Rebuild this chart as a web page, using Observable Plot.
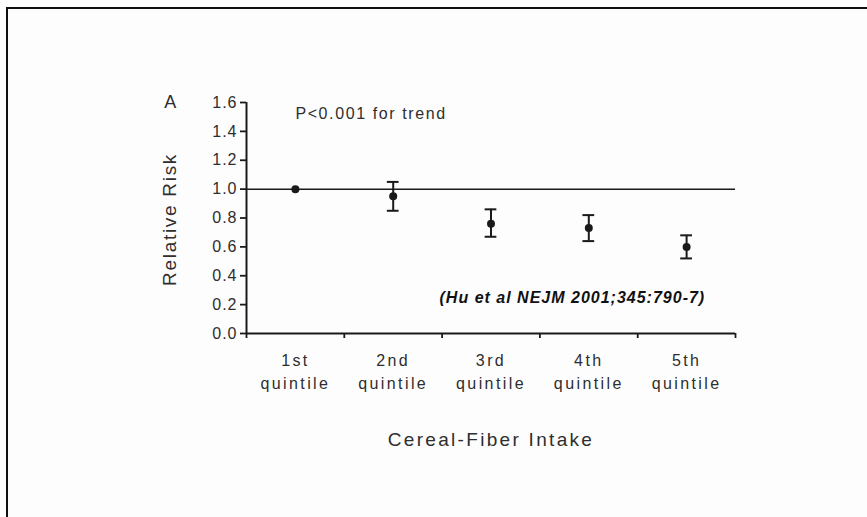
<!DOCTYPE html>
<html>
<head>
<meta charset="utf-8">
<script src="https://cdn.jsdelivr.net/npm/d3@7"></script>
<script src="https://cdn.jsdelivr.net/npm/@observablehq/plot@0.6"></script>
<style>
  html, body { margin: 0; padding: 0; background: #ffffff; }
  #wrap { position: relative; width: 867px; height: 517px; overflow: hidden; background: #ffffff; }
  #frame { position: absolute; left: 6px; top: 7px; right: -10px; bottom: -10px;
           border-top: 2px solid #111; border-left: 2px solid #111; background: #fdfdfd; }
  #chart { position: absolute; left: 0; top: 0; }
  #chart svg { background: transparent; }
</style>
</head>
<body>
<div id="wrap"><div id="frame"></div><div id="chart"></div></div>
<script>
// ---- data ----
const categories = ["1st\nquintile", "2nd\nquintile", "3rd\nquintile", "4th\nquintile", "5th\nquintile"];
const relativeRisk = [1.00, 0.95, 0.76, 0.73, 0.60];
const ciLower = [null, 0.85, 0.67, 0.64, 0.52];
const ciUpper = [null, 1.05, 0.86, 0.82, 0.68];
const yTicks = [0, 0.2, 0.4, 0.6, 0.8, 1.0, 1.2, 1.4, 1.6];
const panelLabel = "A";
const yLabel = "Relative Risk";
const xLabel = "Cereal-Fiber Intake";
const trendNote = "P<0.001 for trend";
const citation = "(Hu et al NEJM 2001;345:790-7)";

const rows = categories.map((c, i) => ({
  pos: i + 0.5, label: c, rr: relativeRisk[i], lo: ciLower[i], hi: ciUpper[i]
}));
const bars = rows.filter(d => d.lo != null);
const boundaries = d3.range(0, categories.length + 1);

const ink = "#1a1a1a";
const txt = "#2e2e2e";
const font = "'Liberation Sans', Arial, Helvetica, sans-serif";

const chart = Plot.plot({
  width: 867,
  height: 517,
  marginLeft: 246,
  marginRight: 132,
  marginTop: 102,
  marginBottom: 184,
  style: { fontFamily: font, color: txt, background: "transparent", overflow: "visible" },
  x: { domain: [0, categories.length], axis: null },
  y: { domain: [0, 1.6], axis: null },
  marks: [
    Plot.ruleY([1], { stroke: ink, strokeWidth: 1.5 }),
    Plot.ruleX([0], { stroke: ink, strokeWidth: 2 }),
    Plot.ruleY([0], { stroke: ink, strokeWidth: 2 }),
    Plot.axisY({
      ticks: yTicks, tickSize: 6, tickPadding: 3, tickFormat: d3.format(".1f"),
      stroke: ink, strokeWidth: 1.8, fill: txt, fontSize: 16, label: null
    }),
    Plot.axisX({
      ticks: boundaries, tickSize: 5, tickFormat: () => "", stroke: ink, strokeWidth: 1.8, label: null
    }),
    Plot.text(rows, {
      x: "pos", y: () => 0, text: "label", dy: 16, lineAnchor: "top", lineHeight: 1.45,
      fontSize: 16, fill: txt
    }),
    Plot.ruleX(bars, { x: "pos", y1: "lo", y2: "hi", stroke: ink, strokeWidth: 2 }),
    Plot.ruleY(bars, { y: "hi", x1: d => d.pos - 0.06, x2: d => d.pos + 0.06, stroke: ink, strokeWidth: 2 }),
    Plot.ruleY(bars, { y: "lo", x1: d => d.pos - 0.06, x2: d => d.pos + 0.06, stroke: ink, strokeWidth: 2 }),
    Plot.dot(rows, { x: "pos", y: "rr", r: 4, fill: ink, stroke: "none" }),
    Plot.text([trendNote], { x: () => 0.5, y: () => 1.52, text: d => d, textAnchor: "start",
      fontSize: 16, fill: txt }),
    Plot.text([citation], { x: () => 4.69, y: () => 0.25, text: d => d, textAnchor: "end",
      fontSize: 16, fontWeight: "bold", fontStyle: "italic", fill: "#111" }),
    Plot.text([panelLabel], { x: () => -0.78, y: () => 1.6, text: d => d,
      fontSize: 18, fill: txt }),
    Plot.text([yLabel], { x: () => -0.78, y: () => 0.79, text: d => d, rotate: -90,
      fontSize: 19, fill: txt }),
    Plot.text([xLabel], { x: () => 2.5, y: () => 0, text: d => d, dy: 106,
      fontSize: 19, fill: txt })
  ]
});

// letter spacing to match the wide lettering of the reference
const spacing = new Map([
  [trendNote, "1.6px"], [citation, "1px"], [yLabel, "1.7px"], [xLabel, "2.3px"]
]);
d3.select(chart).selectAll("text").each(function () {
  const t = this.textContent;
  let ls = spacing.get(t);
  if (!ls && /quintile/.test(t)) ls = "2.4px";
  if (!ls && yTicks.map(d3.format(".1f")).includes(t)) ls = "1px";
  if (ls) this.setAttribute("letter-spacing", ls);
});
document.getElementById("chart").appendChild(chart);
</script>
</body>
</html>
